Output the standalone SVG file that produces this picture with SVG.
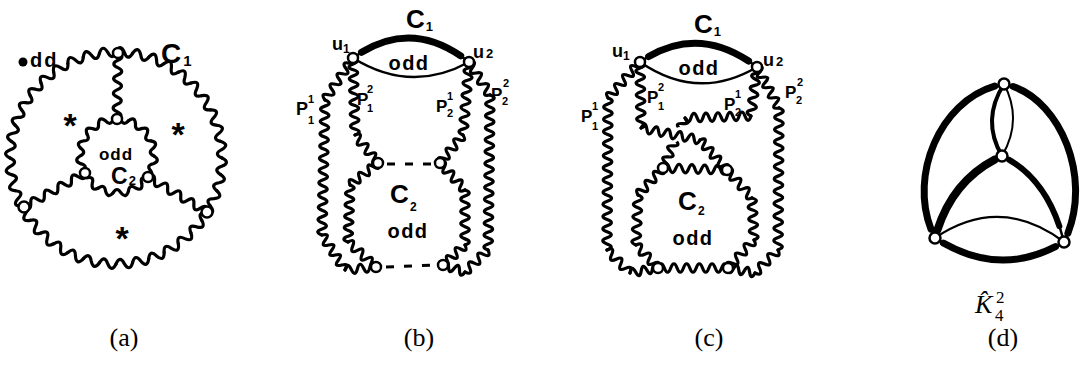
<svg xmlns="http://www.w3.org/2000/svg" width="1087" height="371" viewBox="0 0 1087 371">
<style>
.w{fill:none;stroke:#000;stroke-width:3.2;stroke-linejoin:round;stroke-linecap:round}
.halo{fill:none;stroke:#fff;stroke-width:9;stroke-linecap:round}
.v{fill:#fff;stroke:#000;stroke-width:2.5}
.ln{fill:none;stroke:#000;stroke-linecap:round}
.dash{fill:none;stroke:#000;stroke-width:3;stroke-dasharray:8 10}
.hand{font-family:"Liberation Sans",Arial,sans-serif;font-weight:bold;fill:#000}
.cap{font-family:"Liberation Serif","Times New Roman",serif;font-size:26px;fill:#000}
</style>
<defs>
<path id="uo" d="M106,0Q114.99,4.52 105.67,8.32Q96.41,11.41 104.70,16.58"/>
<g id="uo5"><use href="#uo"/><use href="#uo" transform="rotate(9)"/><use href="#uo" transform="rotate(18)"/><use href="#uo" transform="rotate(27)"/><use href="#uo" transform="rotate(36)"/></g>
<path id="ui" d="M37,0Q43.96,4.62 36.19,7.69Q28.72,9.33 33.80,15.05"/>
<g id="ui5"><use href="#ui"/><use href="#ui" transform="rotate(24)"/><use href="#ui" transform="rotate(48)"/><use href="#ui" transform="rotate(72)"/><use href="#ui" transform="rotate(96)"/></g>
</defs>

<!-- ===== (a) ===== -->
<g id="connectors-a" class="w">
<g id="a-C1" transform="translate(116,158)"><use href="#uo5"/><use href="#uo5" transform="rotate(45)"/><use href="#uo5" transform="rotate(90)"/><use href="#uo5" transform="rotate(135)"/><use href="#uo5" transform="rotate(180)"/><use href="#uo5" transform="rotate(225)"/><use href="#uo5" transform="rotate(270)"/><use href="#uo5" transform="rotate(315)"/></g>
<g id="a-C2" transform="translate(117,156)"><use href="#ui5"/><use href="#ui5" transform="rotate(120)"/><use href="#ui5" transform="rotate(240)"/></g>
<path transform="translate(118,53) rotate(90.9)" d="M0,0q3.67,-8 7.33,0t7.33,0t7.33,0t7.33,0t7.33,0t7.33,0t7.33,0t7.33,0t7.33,0"/>
<path transform="translate(85,173) rotate(150.9)" d="M0,0q3.88,-8 7.76,0t7.76,0t7.76,0t7.76,0t7.76,0t7.76,0t7.76,0t7.76,0t7.76,0"/>
<path transform="translate(148,177) rotate(30.7)" d="M0,0q3.81,-8 7.62,0t7.62,0t7.62,0t7.62,0t7.62,0t7.62,0t7.62,0t7.62,0t7.62,0"/>
</g>
<g id="a-nodes">
<g id="a-v1"><circle class="v" cx="118" cy="53" r="5"/></g>
<g id="a-v2"><circle class="v" cx="117" cy="119" r="5"/></g>
<g id="a-v3"><circle class="v" cx="85" cy="173" r="5"/></g>
<g id="a-v4"><circle class="v" cx="148" cy="177" r="5"/></g>
<g id="a-v5"><circle class="v" cx="24" cy="207" r="5.5"/></g>
<g id="a-v6"><circle class="v" cx="207" cy="212" r="5.5"/></g>
</g>
<g id="a-labels" class="hand">
<circle cx="23" cy="62" r="4.5" fill="#000"/>
<text x="30" y="67" font-size="20" letter-spacing="2">dd</text>
<text x="161" y="63" font-size="28">C<tspan font-size="15" dx="2" dy="3">1</tspan></text>
<text x="116" y="160" font-size="17" text-anchor="middle" letter-spacing="1">odd</text>
<text x="111" y="184" font-size="23">C<tspan font-size="13" dx="1" dy="1">2</tspan></text>
<text x="70" y="137" font-size="34" text-anchor="middle">*</text>
<text x="178" y="146" font-size="34" text-anchor="middle">*</text>
<text x="122" y="250" font-size="34" text-anchor="middle">*</text>
</g>

<!-- ===== (b) ===== -->
<g id="connectors-b">
<path class="ln" stroke-width="2.5" d="M353,58Q411,16 469,62"/>
<path class="ln" stroke-width="7" pathLength="100" stroke-dasharray="84 100" stroke-dashoffset="-8" d="M353,58Q411,16 469,62"/>
<path class="ln" stroke-width="2.5" d="M353,58Q411,94 469,62"/>
<g class="w">
<path transform="translate(353,58) rotate(88.5)" d="M0,0q2.96,-8.5 5.92,0t5.92,0t5.92,0t5.92,0t5.92,0t5.92,0t5.92,0t5.92,0t5.92,0t5.92,0t5.92,0t5.92,0t5.92,0"/>
<path transform="translate(355,135) rotate(50.6)" d="M0,0q3.02,-8.5 6.04,0t6.04,0t6.04,0t6.04,0t6.04,0t6.04,0"/>
<path transform="translate(353,58) rotate(123.7)" d="M0,0q3.16,-8.5 6.31,0t6.31,0t6.31,0t6.31,0t6.31,0t6.31,0t6.31,0t6.31,0"/>
<path transform="translate(325,100) rotate(91.3)" d="M0,0q3.07,-8.5 6.14,0t6.14,0t6.14,0t6.14,0t6.14,0t6.14,0t6.14,0t6.14,0t6.14,0t6.14,0t6.14,0t6.14,0t6.14,0t6.14,0t6.14,0t6.14,0t6.14,0t6.14,0t6.14,0t6.14,0t6.14,0t6.14,0"/>
<path transform="translate(322,235) rotate(56.7)" d="M0,0q2.99,-8.5 5.98,0t5.98,0t5.98,0t5.98,0t5.98,0t5.98,0t5.98,0"/>
<path transform="translate(345,270) rotate(-5.5)" d="M0,0q3.12,-8.5 6.23,0t6.23,0t6.23,0t6.23,0t6.23,0"/>
<path transform="translate(378,163) rotate(141.8)" d="M0,0q2.97,-8.5 5.93,0t5.93,0t5.93,0t5.93,0t5.93,0t5.93,0"/>
<path transform="translate(350,185) rotate(92)" d="M0,0q2.85,-8.5 5.7,0t5.7,0t5.7,0t5.7,0t5.7,0t5.7,0t5.7,0t5.7,0t5.7,0t5.7,0"/>
<path transform="translate(348,242) rotate(41.8)" d="M0,0q3.13,-8.5 6.26,0t6.26,0t6.26,0t6.26,0t6.26,0t6.26,0"/>
<path transform="translate(469,62) rotate(94.7)" d="M0,0q3.05,-8.5 6.1,0t6.1,0t6.1,0t6.1,0t6.1,0t6.1,0t6.1,0t6.1,0t6.1,0t6.1,0t6.1,0t6.1,0"/>
<path transform="translate(463,135) rotate(129.4)" d="M0,0q3.02,-8.5 6.04,0t6.04,0t6.04,0t6.04,0t6.04,0t6.04,0"/>
<path transform="translate(469,62) rotate(57.5)" d="M0,0q3.26,-8.5 6.52,0t6.52,0t6.52,0t6.52,0t6.52,0t6.52,0"/>
<path transform="translate(490,95) rotate(90.7)" d="M0,0q2.98,-8.5 5.96,0t5.96,0t5.96,0t5.96,0t5.96,0t5.96,0t5.96,0t5.96,0t5.96,0t5.96,0t5.96,0t5.96,0t5.96,0t5.96,0t5.96,0t5.96,0t5.96,0t5.96,0t5.96,0t5.96,0t5.96,0t5.96,0t5.96,0t5.96,0t5.96,0t5.96,0"/>
<path transform="translate(488,250) rotate(136.3)" d="M0,0q3.18,-8.5 6.36,0t6.36,0t6.36,0t6.36,0t6.36,0"/>
<path transform="translate(465,272) rotate(197.7)" d="M0,0q2.89,-8.5 5.77,0t5.77,0t5.77,0t5.77,0"/>
<path transform="translate(440,163) rotate(47.2)" d="M0,0q3.07,-8.5 6.13,0t6.13,0t6.13,0t6.13,0t6.13,0t6.13,0"/>
<path transform="translate(465,190) rotate(90)" d="M0,0q3.06,-8.5 6.11,0t6.11,0t6.11,0t6.11,0t6.11,0t6.11,0t6.11,0t6.11,0t6.11,0"/>
<path transform="translate(465,245) rotate(137.7)" d="M0,0q2.98,-8.5 5.95,0t5.95,0t5.95,0t5.95,0t5.95,0"/>
</g>
<line class="dash" x1="387" y1="164" x2="433" y2="164"/>
<line class="dash" x1="386" y1="267" x2="434" y2="265"/>
</g>
<g id="b-nodes">
<g id="b-u1"><circle class="v" cx="353" cy="58" r="5"/></g>
<g id="b-u2"><circle class="v" cx="469" cy="62" r="5"/></g>
<g id="b-m1"><circle class="v" cx="378" cy="163" r="5"/></g>
<g id="b-m2"><circle class="v" cx="440" cy="163" r="5"/></g>
<g id="b-b1"><circle class="v" cx="376" cy="267" r="5"/></g>
<g id="b-b2"><circle class="v" cx="443" cy="265" r="5"/></g>
</g>
<g id="b-labels" class="hand">
<text x="406" y="28" font-size="26">C<tspan font-size="13" dx="1" dy="3">1</tspan></text>
<text x="332" y="50" font-size="18">u<tspan font-size="12" dy="3">1</tspan></text>
<text x="473" y="58" font-size="18">u<tspan font-size="13" dx="2">2</tspan></text>
<text x="409" y="70" font-size="20" text-anchor="middle" letter-spacing="1.5">odd</text>
<text x="296" y="115" font-size="18">P<tspan x="308" y="103" font-size="11">1</tspan><tspan x="308" y="124" font-size="11">1</tspan></text>
<text x="357" y="105" font-size="17">P<tspan x="367" y="93" font-size="11">2</tspan><tspan x="367" y="112" font-size="11">1</tspan></text>
<text x="436" y="112" font-size="17">P<tspan x="447" y="100" font-size="11">1</tspan><tspan x="447" y="117" font-size="11">2</tspan></text>
<text x="491" y="100" font-size="17">P<tspan x="503" y="87" font-size="11">2</tspan><tspan x="502" y="105" font-size="11">2</tspan></text>
<text x="390" y="203" font-size="26">C<tspan x="410" y="211" font-size="12">2</tspan></text>
<text x="408" y="238" font-size="20" text-anchor="middle" letter-spacing="1.5">odd</text>
</g>

<!-- ===== (c) ===== -->
<g id="connectors-c">
<path class="ln" stroke-width="2.5" d="M640,62Q698,22 757,67"/>
<path class="ln" stroke-width="7" pathLength="100" stroke-dasharray="84 100" stroke-dashoffset="-8" d="M640,62Q698,22 757,67"/>
<path class="ln" stroke-width="2.5" d="M640,62Q698,102 757,67"/>
<g class="w">
<path transform="translate(757,67) rotate(97)" d="M0,0q3.09,-8.5 6.17,0t6.17,0t6.17,0t6.17,0t6.17,0t6.17,0t6.17,0t6.17,0"/>
<path transform="translate(751,116) rotate(178.3)" d="M0,0q3,-8.5 6,0t6,0t6,0t6,0t6,0t6,0t6,0t6,0t6,0t6,0t6,0"/>
<path transform="translate(685,118) rotate(113.7)" d="M0,0q3.04,-8.5 6.07,0t6.07,0t6.07,0t6.07,0t6.07,0t6.07,0t6.07,0t6.07,0t6.07,0"/>
</g>
<path class="halo" transform="translate(641,128) rotate(11.5)" d="M0,0q3.01,-8.5 6.02,0t6.02,0t6.02,0t6.02,0t6.02,0t6.02,0t6.02,0t6.02,0t6.02,0t6.02,0"/>
<g class="w">
<path transform="translate(640,62) rotate(89.1)" d="M0,0q3,-8.5 6,0t6,0t6,0t6,0t6,0t6,0t6,0t6,0t6,0t6,0t6,0"/>
<path transform="translate(641,128) rotate(11.5)" d="M0,0q3.01,-8.5 6.02,0t6.02,0t6.02,0t6.02,0t6.02,0t6.02,0t6.02,0t6.02,0t6.02,0t6.02,0"/>
<path transform="translate(700,140) rotate(48)" d="M0,0q2.89,-8.5 5.77,0t5.77,0t5.77,0t5.77,0t5.77,0t5.77,0t5.77,0"/>
<path transform="translate(640,62) rotate(131.6)" d="M0,0q3.01,-8.5 6.02,0t6.02,0t6.02,0t6.02,0t6.02,0t6.02,0t6.02,0t6.02,0"/>
<path transform="translate(608,98) rotate(90.4)" d="M0,0q3.04,-8.5 6.08,0t6.08,0t6.08,0t6.08,0t6.08,0t6.08,0t6.08,0t6.08,0t6.08,0t6.08,0t6.08,0t6.08,0t6.08,0t6.08,0t6.08,0t6.08,0t6.08,0t6.08,0t6.08,0t6.08,0t6.08,0t6.08,0t6.08,0t6.08,0t6.08,0"/>
<path transform="translate(607,250) rotate(45)" d="M0,0q3.25,-8.5 6.5,0t6.5,0t6.5,0t6.5,0t6.5,0"/>
<path transform="translate(630,273) rotate(-10.1)" d="M0,0q2.85,-8.5 5.69,0t5.69,0t5.69,0t5.69,0t5.69,0"/>
<path transform="translate(757,67) rotate(61.8)" d="M0,0q2.91,-8.5 5.81,0t5.81,0t5.81,0t5.81,0t5.81,0t5.81,0t5.81,0t5.81,0"/>
<path transform="translate(779,108) rotate(90.4)" d="M0,0q3.09,-8.5 6.17,0t6.17,0t6.17,0t6.17,0t6.17,0t6.17,0t6.17,0t6.17,0t6.17,0t6.17,0t6.17,0t6.17,0t6.17,0t6.17,0t6.17,0t6.17,0t6.17,0t6.17,0t6.17,0t6.17,0t6.17,0t6.17,0t6.17,0"/>
<path transform="translate(778,250) rotate(135)" d="M0,0q3.25,-8.5 6.5,0t6.5,0t6.5,0t6.5,0t6.5,0"/>
<path transform="translate(755,273) rotate(190.5)" d="M0,0q2.75,-8.5 5.5,0t5.5,0t5.5,0t5.5,0t5.5,0"/>
<path transform="translate(663,168) rotate(1.8)" d="M0,0q3.2,-8.5 6.4,0t6.4,0t6.4,0t6.4,0t6.4,0t6.4,0t6.4,0t6.4,0t6.4,0t6.4,0"/>
<path transform="translate(663,168) rotate(132.8)" d="M0,0q3.07,-8.5 6.13,0t6.13,0t6.13,0t6.13,0t6.13,0t6.13,0"/>
<path transform="translate(638,195) rotate(92.3)" d="M0,0q3.13,-8.5 6.25,0t6.25,0t6.25,0t6.25,0t6.25,0t6.25,0t6.25,0t6.25,0"/>
<path transform="translate(636,245) rotate(46.3)" d="M0,0q3.18,-8.5 6.36,0t6.36,0t6.36,0t6.36,0t6.36,0"/>
<path transform="translate(727,170) rotate(48.2)" d="M0,0q3.13,-8.5 6.25,0t6.25,0t6.25,0t6.25,0t6.25,0t6.25,0"/>
<path transform="translate(752,198) rotate(87.3)" d="M0,0q3,-8.5 6,0t6,0t6,0t6,0t6,0t6,0t6,0"/>
<path transform="translate(754,240) rotate(132.9)" d="M0,0q3.19,-8.5 6.37,0t6.37,0t6.37,0t6.37,0t6.37,0t6.37,0"/>
<path transform="translate(658,268)" d="M0,0q3.18,-8.5 6.36,0t6.36,0t6.36,0t6.36,0t6.36,0t6.36,0t6.36,0t6.36,0t6.36,0t6.36,0t6.36,0"/>
</g>
</g>
<g id="c-nodes">
<g id="c-u1"><circle class="v" cx="640" cy="62" r="5"/></g>
<g id="c-u2"><circle class="v" cx="757" cy="67" r="5"/></g>
<g id="c-t1"><circle class="v" cx="663" cy="168" r="5"/></g>
<g id="c-t2"><circle class="v" cx="727" cy="170" r="5"/></g>
<g id="c-b1"><circle class="v" cx="658" cy="268" r="5"/></g>
<g id="c-b2"><circle class="v" cx="728" cy="268" r="5"/></g>
</g>
<g id="c-labels" class="hand">
<text x="694" y="33" font-size="26">C<tspan font-size="13" dx="1" dy="3">1</tspan></text>
<text x="612" y="57" font-size="18">u<tspan font-size="12" dy="3">1</tspan></text>
<text x="763" y="66" font-size="18">u<tspan font-size="13" dx="2">2</tspan></text>
<text x="699" y="75" font-size="20" text-anchor="middle" letter-spacing="1.5">odd</text>
<text x="581" y="122" font-size="17">P<tspan x="592" y="110" font-size="11">1</tspan><tspan x="592" y="130" font-size="11">1</tspan></text>
<text x="647" y="103" font-size="17">P<tspan x="658" y="91" font-size="11">2</tspan><tspan x="658" y="110" font-size="11">1</tspan></text>
<text x="724" y="110" font-size="17">P<tspan x="735" y="98" font-size="11">1</tspan><tspan x="735" y="116" font-size="11">2</tspan></text>
<text x="785" y="98" font-size="17">P<tspan x="797" y="86" font-size="11">2</tspan><tspan x="796" y="104" font-size="11">2</tspan></text>
<text x="678" y="210" font-size="26">C<tspan x="698" y="215" font-size="12">2</tspan></text>
<text x="693" y="245" font-size="20" text-anchor="middle" letter-spacing="1.5">odd</text>
</g>

<!-- ===== (d) ===== -->
<g id="connectors-d">
<path class="ln" stroke-width="2.5" d="M1004,84C940,95 905,180 935,238"/>
<path class="ln" stroke-width="7" pathLength="100" stroke-dasharray="90 100" stroke-dashoffset="-5" d="M1004,84C940,95 905,180 935,238"/>
<path class="ln" stroke-width="2.5" d="M1004,84C1060,95 1095,180 1064,242"/>
<path class="ln" stroke-width="7" pathLength="100" stroke-dasharray="90 100" stroke-dashoffset="-5" d="M1004,84C1060,95 1095,180 1064,242"/>
<path class="ln" stroke-width="2.5" d="M935,238Q1000,280 1064,242"/>
<path class="ln" stroke-width="7" pathLength="100" stroke-dasharray="86 100" stroke-dashoffset="-7" d="M935,238Q1000,280 1064,242"/>
<path class="ln" stroke-width="2.2" d="M935,238Q1000,194 1064,242"/>
<path class="ln" stroke-width="2.5" d="M1002,156Q951,179 935,238"/>
<path class="ln" stroke-width="8" pathLength="100" stroke-dasharray="86 100" stroke-dashoffset="-7" d="M1002,156Q951,179 935,238"/>
<path class="ln" stroke-width="2.5" d="M1002,156Q1048,178 1064,242"/>
<path class="ln" stroke-width="6" pathLength="100" stroke-dasharray="78 100" stroke-dashoffset="-7" d="M1002,156Q1048,178 1064,242"/>
<path class="ln" stroke-width="4" d="M1004,84Q981,120 1002,156"/>
<path class="ln" stroke-width="2" d="M1004,84Q1023,120 1002,156"/>
</g>
<g id="d-nodes">
<g id="d-t"><circle class="v" cx="1004" cy="84" r="5.5"/></g>
<g id="d-m"><circle class="v" cx="1002" cy="156" r="5.5"/></g>
<g id="d-bl"><circle class="v" cx="935" cy="238" r="5.5"/></g>
<g id="d-br"><circle class="v" cx="1064" cy="242" r="5.5"/></g>
</g>
<g id="d-labels" class="cap">
<text x="975" y="313" font-style="italic">K̂</text>
<text x="996" y="303" font-size="17">2</text>
<text x="995" y="321" font-size="17">4</text>
</g>

<g id="captions" class="cap" text-anchor="middle">
<text x="124" y="346">(a)</text>
<text x="419" y="346">(b)</text>
<text x="709" y="346">(c)</text>
<text x="1003" y="346">(d)</text>
</g>
</svg>
